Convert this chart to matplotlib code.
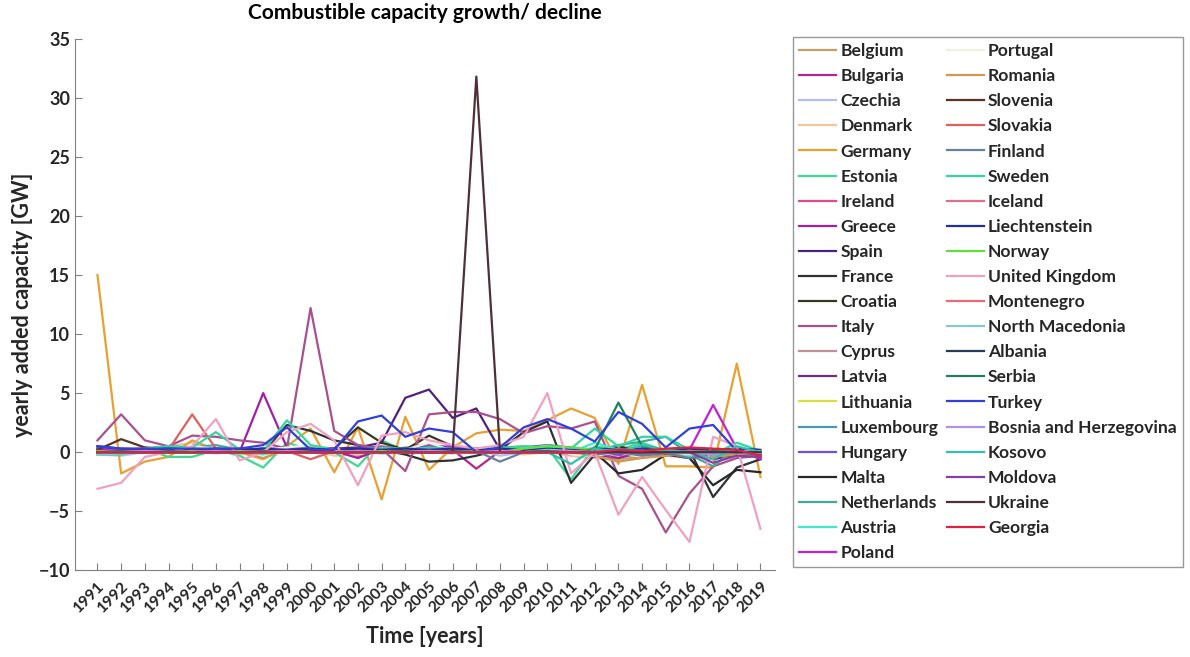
# Combustible capacity growth/decline, yearly added capacity per country
import matplotlib
matplotlib.use("Agg")
from matplotlib import pyplot as plt

plt.rcParams['font.family'] = ['Lato', 'DejaVu Sans']

years = list(range(1991, 2020))

countries = ["Belgium", "Bulgaria", "Czechia", "Denmark", "Germany", "Estonia", "Ireland",
             "Greece", "Spain", "France", "Croatia", "Italy", "Cyprus", "Latvia",
             "Lithuania", "Luxembourg", "Hungary", "Malta", "Netherlands", "Austria", "Poland",
             "Portugal", "Romania", "Slovenia", "Slovakia", "Finland", "Sweden", "Iceland",
             "Liechtenstein", "Norway", "United Kingdom", "Montenegro", "North Macedonia",
             "Albania", "Serbia", "Turkey", "Bosnia and Herzegovina", "Kosovo", "Moldova",
             "Ukraine", "Georgia"]

colors = ["#c0a060", "#b02890", "#b0c0f0", "#f0c8a0", "#e8a030", "#40d890", "#e04890",
          "#a020a8", "#502080", "#303038", "#383820", "#a85090", "#c09098", "#703080",
          "#d8e040", "#4898b0", "#7050e0", "#282828", "#48a898", "#40e8c8", "#c020d8",
          "#f0f0e0", "#d09850", "#603020", "#e06060", "#6880a0", "#30d8a0", "#e07088",
          "#2030a0", "#60e040", "#f0a0c0", "#f06878", "#88c8d0", "#283858", "#208060",
          "#3040d8", "#b090e8", "#30c0b0", "#8840a0", "#503038", "#e02040"]

# values in GW, 1991..2019
belgium = [0.1, 0.2, 0.0, 0.3, 0.4, 0.2, 0.1, 0.3, 0.2, 0.5, 0.3, 0.2, 0.1, 0.4, 0.6, 0.3, 0.2, 0.4, 0.5, 0.3, -0.3, -0.5, -0.6, -0.4, -0.2, -0.3, 0.1, -0.2, -0.3]
bulgaria = [0.0, 0.1, 0.0, 0.0, 0.1, 0.0, 0.0, 0.1, 0.2, 0.0, 0.1, -0.3, 0.2, 0.1, 0.5, 0.2, -1.4, 0.1, 0.0, 0.2, 0.1, -0.3, 0.2, 0.1, 0.0, -0.2, 0.1, 0.0, -0.2]
czechia = [-0.2, -0.3, 0.0, 0.1, 0.2, 0.0, -0.1, 0.1, 0.0, 0.2, 0.0, -0.2, 0.0, 0.1, 0.0, -0.1, 0.2, -0.3, 0.0, 0.3, 0.1, 0.0, -0.4, -0.2, 0.0, -0.3, -0.5, -0.2, -0.1]
denmark = [0.2, 0.3, 0.4, 0.5, 0.8, 0.1, -0.2, 0.0, 0.1, 0.2, -0.3, -0.2, 0.0, 0.1, 0.0, -0.1, 0.0, 0.1, -0.2, 0.0, -0.3, -0.5, -0.4, -0.2, -0.3, -0.5, -0.4, -0.2, -0.3]
germany = [15.0, -1.8, -0.8, -0.4, 1.0, 0.2, 0.0, -0.6, 0.5, 2.0, -1.7, 2.1, -4.0, 3.0, -1.5, 0.4, 1.6, 1.9, 1.8, 2.7, 3.7, 2.9, -1.0, 5.7, -1.2, -1.2, -1.3, 7.5, -2.1]
estonia = [-0.2, -0.2, 0.3, -0.4, -0.4, 0.2, -0.3, -1.3, 0.8, 0.2, 0.0, -1.2, 1.0, 0.1, 0.2, 0.3, 0.1, 0.0, 0.2, 0.4, -2.3, 0.5, 0.2, 0.8, 0.1, -0.3, -0.5, 0.3, -0.2]
ireland = [0.0, 0.1, 0.2, 0.1, 0.0, 0.1, 0.2, 0.0, 0.3, 0.2, 0.1, 0.3, 0.5, 0.2, 0.6, 0.4, 0.1, 0.2, 0.3, 0.1, -0.2, 0.1, 0.0, -0.2, -0.3, 0.1, -0.4, 0.0, -0.1]
greece = [0.0, 0.1, 0.0, 0.1, 0.0, 0.1, 0.0, 5.0, 0.4, 0.0, 0.1, -0.5, 0.3, 0.1, 0.4, 0.2, 0.0, 0.1, 0.0, 0.3, 0.2, -0.2, -0.5, 0.0, 0.1, 0.0, -0.3, 0.0, -0.4]
spain = [0.3, 0.2, 0.2, 0.3, 0.3, 0.3, 0.2, 0.3, 0.3, 0.2, 0.3, 0.4, 0.8, 4.6, 5.3, 2.9, 3.7, 0.2, 0.3, 0.4, 0.2, 0.1, -0.2, 0.0, 0.1, 0.0, -0.6, -0.2, -0.3]
france = [0.0, 0.0, 0.1, 0.0, 0.0, 0.1, 0.0, 0.0, 2.3, 1.8, 1.0, 0.6, 0.2, -0.2, -0.8, -0.7, -0.3, 0.2, 1.7, 2.6, -2.6, -0.2, 0.5, 0.0, 0.0, 0.2, -3.8, -1.3, -0.6]
croatia = [0.1, 0.2, 0.1, 0.0, 0.1, 0.0, 0.1, 0.0, 0.1, 0.2, 0.3, 2.1, 0.8, 0.2, 1.4, 0.5, 0.1, 0.0, 0.2, 0.1, 0.0, 0.1, 0.2, 0.0, 0.1, 0.0, 0.1, 0.2, 0.0]
italy = [1.0, 3.2, 1.0, 0.5, 1.4, 1.3, 1.0, 0.8, 0.3, 12.2, 1.8, 0.6, 0.3, -1.6, 3.2, 3.4, 3.4, 2.8, 1.6, 2.2, 2.0, 2.6, -2.0, -3.1, -6.8, -3.5, -1.2, -0.5, -0.3]
cyprus = [0.0, 0.0, 0.1, 0.1, 0.0, 0.0, 0.1, 0.0, 0.0, 0.1, 0.0, 0.1, 0.0, 0.1, 0.0, 0.1, 0.0, 0.1, 0.0, 0.0, 0.1, 0.0, 0.0, 0.0, 0.1, 0.0, 0.0, 0.0, 0.0]
latvia = [0.1, 0.0, 0.1, 0.0, 0.1, 0.0, 0.0, 0.1, 0.0, 0.0, 0.1, 0.0, 0.1, 0.0, 0.1, 0.0, 0.0, 0.1, 0.0, 0.2, 0.0, 0.1, 0.0, 0.0, 0.1, 0.0, 0.0, 0.1, 0.0]
lithuania = [0.0, 0.1, 0.0, 0.1, 0.0, 0.0, 0.1, 0.0, 0.1, 0.0, 0.0, 0.1, 0.0, 0.0, 0.1, 0.0, 0.0, 0.0, 0.1, 0.3, 0.0, 0.1, 0.0, 0.0, 0.0, 0.1, 0.0, 0.0, 0.0]
luxembourg = [0.0, 0.0, 0.0, 0.1, 0.0, 0.0, 0.0, 0.0, 0.1, 0.0, 0.0, 0.3, 0.0, 0.0, 0.0, 0.0, 0.0, 0.0, 0.0, 0.0, 0.0, 0.0, 0.0, 0.0, 0.0, -0.2, 0.0, 0.0, 0.0]
hungary = [0.3, 0.2, 0.3, 0.2, 0.3, 0.2, 0.3, 0.2, 0.4, 0.3, 0.2, 0.3, 0.4, 0.3, 0.5, 0.3, 0.2, 0.3, 0.4, 0.6, 0.3, 0.1, -0.2, 0.0, 0.1, -0.3, -0.2, 0.0, -0.4]
malta = [0.0, 0.0, 0.0, 0.0, 0.0, 0.0, 0.0, 0.0, 0.0, 0.0, 0.0, 0.0, 0.0, 0.0, 0.0, 0.0, 0.0, 0.0, 0.0, 0.0, 0.0, 0.0, -1.8, -1.5, -0.2, -0.5, -2.8, -1.5, -1.7]
netherlands = [0.2, 0.1, 0.3, 0.5, 0.4, 0.6, 0.2, 0.0, 0.4, 0.3, 0.1, 0.2, 0.4, 0.3, 0.2, 0.1, 0.3, 0.5, 0.2, 0.6, 0.4, 0.1, 0.6, 0.9, 1.3, -0.2, -1.2, 0.4, -0.2]
austria = [-0.1, 0.0, 0.2, 0.3, 0.1, 0.2, 0.0, -0.2, 0.3, 0.1, 0.0, 0.2, -0.1, 0.1, 0.2, 0.4, 0.0, 0.2, 0.3, 0.1, 0.0, 0.8, 0.2, 0.4, 0.0, -0.4, -0.3, 0.0, -0.3]
poland = [0.2, 0.1, 0.3, 0.2, 0.1, 0.2, 0.3, 0.2, 0.4, 0.2, 0.3, 0.2, 0.3, 0.2, 0.4, 0.5, 0.3, 0.2, 0.3, 0.2, 0.4, -0.4, 0.2, 0.1, 0.0, 0.2, 4.0, 0.3, -0.6]
portugal = [0.0, 0.1, 0.2, 0.0, 0.5, 0.3, 0.0, 0.2, 0.4, 0.6, 0.1, 0.0, 0.3, 0.2, 0.8, 0.1, 0.0, 0.2, 0.3, 0.5, -0.2, -0.3, 0.0, -0.4, 0.0, -0.2, 0.0, 0.1, -0.2]
romania = [0.1, 0.0, 0.2, 0.1, 0.3, 0.2, 0.0, -0.5, 0.2, 0.1, 0.0, 0.2, 0.1, 0.0, 0.3, 0.1, 0.0, 0.2, 0.1, 0.4, 0.0, -0.3, -0.8, -0.5, -0.3, 0.0, -0.4, -0.2, -0.3]
slovenia = [0.2, 1.1, 0.4, 0.2, 0.1, 0.0, 0.1, 0.0, 0.1, 0.0, 0.0, 0.1, 0.0, 0.0, 0.1, 0.0, 0.0, 0.1, 0.0, 0.0, 0.1, 0.0, 0.0, 0.0, 0.1, 0.0, 0.0, 0.0, 0.0]
slovakia = [0.0, 0.1, 0.2, 0.2, 3.2, 0.3, 0.1, 0.0, 0.1, -0.6, 0.1, 0.0, 0.1, 0.0, 0.2, 0.0, 0.1, 0.0, 0.1, 0.0, 0.1, 0.0, 0.0, 0.1, 0.0, 0.0, 0.1, 0.0, 0.0]
finland = [0.0, 0.1, 0.2, 0.1, 0.3, 0.0, 0.1, 0.2, 0.0, 0.1, 0.2, 0.0, 0.1, 0.3, 0.2, 0.0, 0.1, -0.8, 0.0, 0.2, 0.1, -0.2, 0.0, -0.3, -0.1, -0.5, -0.2, 0.0, -0.3]
sweden = [0.0, 0.1, 0.3, 0.5, 0.4, 1.7, 0.2, 0.1, 2.7, 0.6, 0.2, 0.1, 0.3, 0.2, 0.4, 0.3, 0.2, 0.3, 0.5, 0.4, 0.3, 2.0, 0.5, 1.3, 1.3, 0.2, -0.2, 0.8, 0.1]
iceland = [0.0, 0.0, 0.1, 0.0, 0.0, 0.0, 0.1, 0.0, 0.0, 0.0, 0.1, 0.0, 0.0, 0.0, 0.1, 0.0, 0.0, 0.0, 0.1, 0.0, 0.0, 0.0, 0.1, 0.0, 0.0, 0.0, 0.1, 0.0, 0.0]
liechtenstein = [0.5, 0.3, 0.2, 0.3, 0.2, 0.3, 0.2, 0.3, 0.2, 0.3, 0.2, 0.3, 0.2, 0.3, 0.2, 0.3, 0.2, 0.3, 0.2, 0.3, 0.2, 0.3, 0.2, 0.3, 0.2, 0.3, 0.2, 0.3, 0.2]
norway = [0.1, 0.0, 0.1, 0.0, 0.1, 0.0, 0.1, 0.0, 0.1, 0.0, 0.1, 0.0, 0.1, 0.0, 0.1, 0.0, 0.1, 0.0, 0.3, 0.5, 0.4, 0.2, 0.1, 0.0, 0.1, 0.0, 0.1, 0.0, 0.1]
uk = [-3.1, -2.6, -0.4, 0.0, 0.5, 2.8, -0.7, 0.0, 1.7, 2.4, 1.0, -2.8, 1.4, 1.7, 1.0, 0.6, 0.3, 0.6, 1.3, 5.0, -1.8, 0.0, -5.3, -2.1, -4.9, -7.6, 1.3, 0.5, -6.5]
montenegro = [0.0, 0.1, 0.0, 0.0, 0.0, 0.1, 0.0, 0.0, 0.0, 0.1, 0.0, 0.0, 0.0, 0.1, 0.0, 0.0, 0.0, 0.1, 0.0, 0.0, 0.0, 0.1, 0.0, 0.0, 0.0, 0.1, 0.0, 0.0, 0.0]
north_macedonia = [-0.2, -0.1, 0.0, 0.1, 0.0, -0.1, 0.0, 0.1, 0.0, 0.0, 0.1, 0.0, -0.1, 0.0, 0.1, 0.0, 0.0, 0.1, 0.0, 0.2, 0.1, 0.0, 0.2, 0.1, 0.0, -0.1, 0.0, 0.1, 0.0]
albania = [0.0, 0.0, 0.0, 0.0, 0.0, 0.0, 0.0, 0.0, 0.0, 0.0, 0.0, 0.0, 0.0, 0.0, 0.0, 0.0, 0.0, 0.0, 0.0, 0.1, 0.0, 0.0, 0.0, 0.0, 0.0, 0.0, 0.0, 0.0, 0.0]
serbia = [0.0, 0.1, 0.0, 0.1, 0.0, 0.1, 0.0, 0.1, 0.0, 0.1, 0.0, 0.1, 0.0, 0.1, 0.0, 0.1, 0.0, 0.1, 0.0, 0.1, 0.0, 0.2, 4.2, 0.5, 0.2, 0.0, 0.1, 0.0, 0.0]
turkey = [0.5, 0.3, 0.3, 0.3, 0.3, 0.3, 0.3, 0.6, 2.1, 0.2, 0.2, 2.6, 3.1, 1.3, 2.0, 1.7, 0.0, 0.4, 2.1, 2.8, 2.0, 0.9, 3.4, 2.4, 0.4, 2.0, 2.3, 0.1, -0.2]
bosnia = [0.0, 0.0, 0.1, 0.0, 0.0, 0.1, 0.0, 0.0, 0.1, 0.0, 0.0, 0.1, 0.0, 0.0, 0.1, 0.0, 0.0, 0.1, 0.0, 0.0, 0.1, 0.0, 0.0, 0.1, 0.0, 0.0, -0.2, 0.0, -0.1]
kosovo = [0.0, 0.0, 0.0, 0.0, 0.0, 0.0, 0.0, 0.0, 0.0, 0.0, 0.0, 0.0, 0.0, 0.0, 0.0, 0.0, 0.0, 0.0, 0.0, 0.0, -1.0, 0.3, 0.0, 0.6, 0.2, 0.0, -0.6, 0.5, 0.0]
moldova = [0.0, 0.0, 0.0, 0.0, 0.0, 0.0, 0.0, 0.0, 0.0, 0.0, 0.0, 0.0, 0.0, 0.0, 0.0, 0.0, 0.0, 0.0, 0.0, 0.0, 0.0, 0.0, 0.0, 0.0, 0.0, 0.0, -0.9, -0.3, -0.4]
ukraine = [0.0, 0.0, 0.0, 0.0, 0.0, 0.0, 0.0, 0.0, 0.0, 0.0, 0.0, 0.0, 0.0, 0.0, 0.0, 0.0, 31.8, 0.0, 0.0, 0.0, 0.0, 0.0, 0.0, 0.0, 0.0, 0.0, 0.0, 0.0, 0.0]
georgia = [0.0, 0.0, 0.0, 0.0, 0.0, 0.0, 0.0, 0.0, 0.0, 0.0, 0.0, 0.0, 0.0, 0.0, 0.0, 0.0, 0.0, 0.0, 0.0, 0.0, 0.0, 0.0, 0.2, 0.1, 0.3, 0.4, 0.3, 0.2, -0.3]

series = [belgium, bulgaria, czechia, denmark, germany, estonia, ireland, greece, spain,
          france, croatia, italy, cyprus, latvia, lithuania, luxembourg, hungary, malta,
          netherlands, austria, poland, portugal, romania, slovenia, slovakia, finland,
          sweden, iceland, liechtenstein, norway, uk, montenegro, north_macedonia, albania,
          serbia, turkey, bosnia, kosovo, moldova, ukraine, georgia]

fig = plt.figure(figsize=(11.9, 6.57), dpi=100)
ax = fig.add_axes([0.063, 0.132, 0.588, 0.809])

for name, vals, c in zip(countries, series, colors):
    ax.plot(years, vals, color=c, lw=1.6, label=name)

ax.set_xlim(1990.05, 2019.6)
ax.set_ylim(-10, 35)
ax.set_yticks(range(-10, 36, 5))
ax.set_xticks(years)
ax.set_xticklabels([str(y) for y in years], rotation=45, ha='right', va='top',
                   rotation_mode='anchor', fontsize=11.5, fontweight='bold', color='#262626')
plt.setp(ax.get_yticklabels(), fontsize=13, fontweight='bold', color='#262626')
ax.tick_params(direction='in', length=5, color='#808080', width=0.8)
ax.tick_params(axis='x', pad=6)
for s in ['top', 'right']:
    ax.spines[s].set_visible(False)
for s in ['left', 'bottom']:
    ax.spines[s].set_color('#808080')
    ax.spines[s].set_linewidth(0.8)

ax.set_title("Combustible capacity growth/ decline", fontsize=15, fontweight='bold', pad=14)
ax.set_ylabel("yearly added capacity [GW]", fontsize=15.5, fontweight='bold', color='#262626')
ax.set_xlabel("Time [years]", fontsize=15.5, fontweight='bold', color='#262626', labelpad=8)

leg = fig.legend(loc='upper left', bbox_to_anchor=(793 / 1190, 1 - 37 / 657), ncol=2,
                 fontsize=12.6, frameon=True, fancybox=False, edgecolor='#808080',
                 handlelength=2.1, handletextpad=0.25, columnspacing=0.5,
                 labelspacing=0.52, borderpad=0.35, borderaxespad=0)
leg.get_frame().set_linewidth(1.0)
for t in leg.get_texts():
    t.set_fontweight('bold')
    t.set_color('#262626')

plt.savefig("out.png", dpi=100)
